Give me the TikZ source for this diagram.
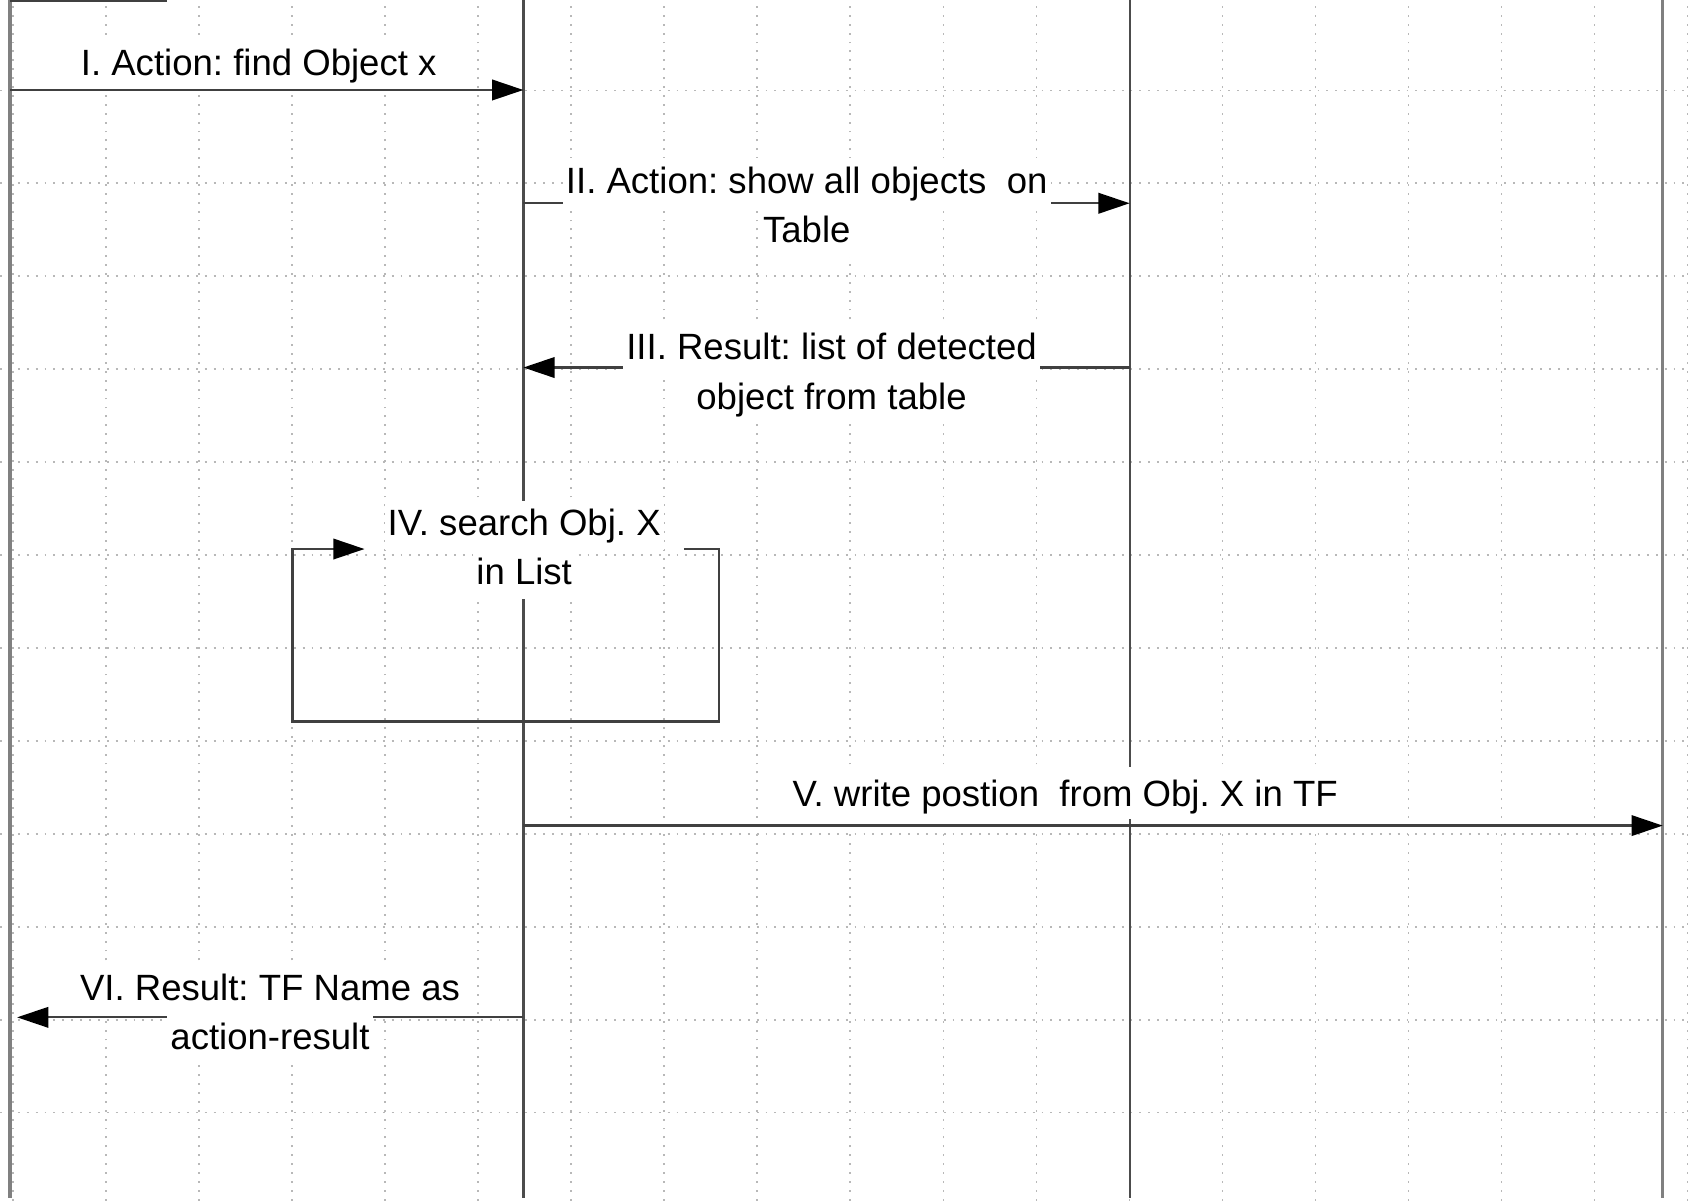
\documentclass[tikz,border=0pt]{standalone}
\usepackage{fontspec}
\setmainfont{Liberation Sans}
\usetikzlibrary{arrows.meta}
\frenchspacing

% white band behind one text line
\newcommand{\lnbox}[1]{{\setlength{\fboxsep}{0pt}\colorbox{white}{\hspace{0.8pt}\rule[-3.8pt]{0pt}{13pt}#1\hspace{0.8pt}}}}

\begin{document}
\begin{tikzpicture}[
  font=\fontsize{9.65}{13}\selectfont,
  gridln/.style={draw=black!28, line width=0.5pt, dash pattern=on 0.5pt off 1.85pt},
  life/.style={draw=black!#1, line width=0.8pt},
  msg/.style={-{Triangle[length=0.29cm, width=0.19cm, color=black]}, draw=black!75, line width=0.6pt},
  lbl/.style={align=center, inner sep=0pt},
  onelbl/.style={fill=white, inner xsep=2pt, inner ysep=0pt,
                 text height=10.4pt, text depth=3.2pt, anchor=base},
]
\useasboundingbox (0,0) rectangle (15.68,11.14);

%% ====================================================
%% dotted background grid
%% ====================================================
\foreach \k in {0,...,18} {
  \draw[gridln] ({0.1243+0.8629*\k}, 0) -- ({0.1243+0.8629*\k}, 11.14);
}
\foreach \k in {0,...,11} {
  \draw[gridln] (0, {10.30-0.862*\k}) -- (15.68, {10.30-0.862*\k});
}

%% ====================================================
%% lifelines
%% ====================================================
\coordinate (objA) at (0.093,11.14);
\coordinate (objB) at (4.856,11.14);
\coordinate (objC) at (10.481,11.14);
\coordinate (objD) at (15.427,11.14);
\coordinate (headA) at (1.546,11.14);
\coordinate (ground) at (0,0.024);

\draw[life=50, line width=0.9pt] (objA) -- (objA |- ground);
\draw[life=70, line width=0.6pt] (objB) -- (objB |- ground);
\draw[life=70, line width=0.6pt] (objC) -- (objC |- ground);
\draw[life=50, line width=0.9pt] (objD) -- (objD |- ground);
\draw[black!75, line width=0.8pt] (objA) -- (headA);

%% message levels
\coordinate (mI)   at (0,10.305);
\coordinate (mII)  at (0,9.254);
\coordinate (mIII) at (0,7.73);
\coordinate (mIV)  at (0,6.046);
\coordinate (mV)   at (0,3.48);
\coordinate (mVI)  at (0,1.701);

%% ---- I ----
\draw[msg] (objA |- mI) -- (objB |- mI);
\node[onelbl] (lI) at (2.40,10.435) {I. Action: find Object x};

%% ---- II ----
\draw[msg] (objB |- mII) -- (objC |- mII);
\node[lbl] (lII) at (7.485,9.2125) {\lnbox{II. Action: show all objects\ \ on}\\\lnbox{Table}};

%% ---- III ----
\draw[msg] (objC |- mIII) -- (objB |- mIII);
\node[lbl] (lIII) at (7.715,7.6665) {\lnbox{III. Result: list of detected}\\\lnbox{object from table}};

%% ---- IV (self call) ----
\node[lbl, inner xsep=0.18cm] (lIV) at (4.8635,6.0365) {\lnbox{IV. search Obj. X}\\\lnbox{in List}};
\coordinate (ivR) at (6.67,4.447);
\coordinate (ivL) at (2.715,4.447);
\draw[msg] (lIV.east |- mIV) -- (ivR |- mIV) -- (ivR) -- (ivL) -- (ivL |- mIV) -- (lIV.west |- mIV);

%% ---- V ----
\draw[msg] (objB |- mV) -- (objD |- mV);
\node[onelbl] (lV) at (9.883,3.655) {V. write postion\ \ from Obj. X in TF};

%% ---- VI ----
\coordinate (tipVI) at (0.159,1.701);
\draw[msg] (objB |- mVI) -- (tipVI);
\node[lbl] (lVI) at (2.505,1.7215) {\lnbox{VI. Result: TF Name as}\\\lnbox{action-result}};

\end{tikzpicture}
\end{document}
